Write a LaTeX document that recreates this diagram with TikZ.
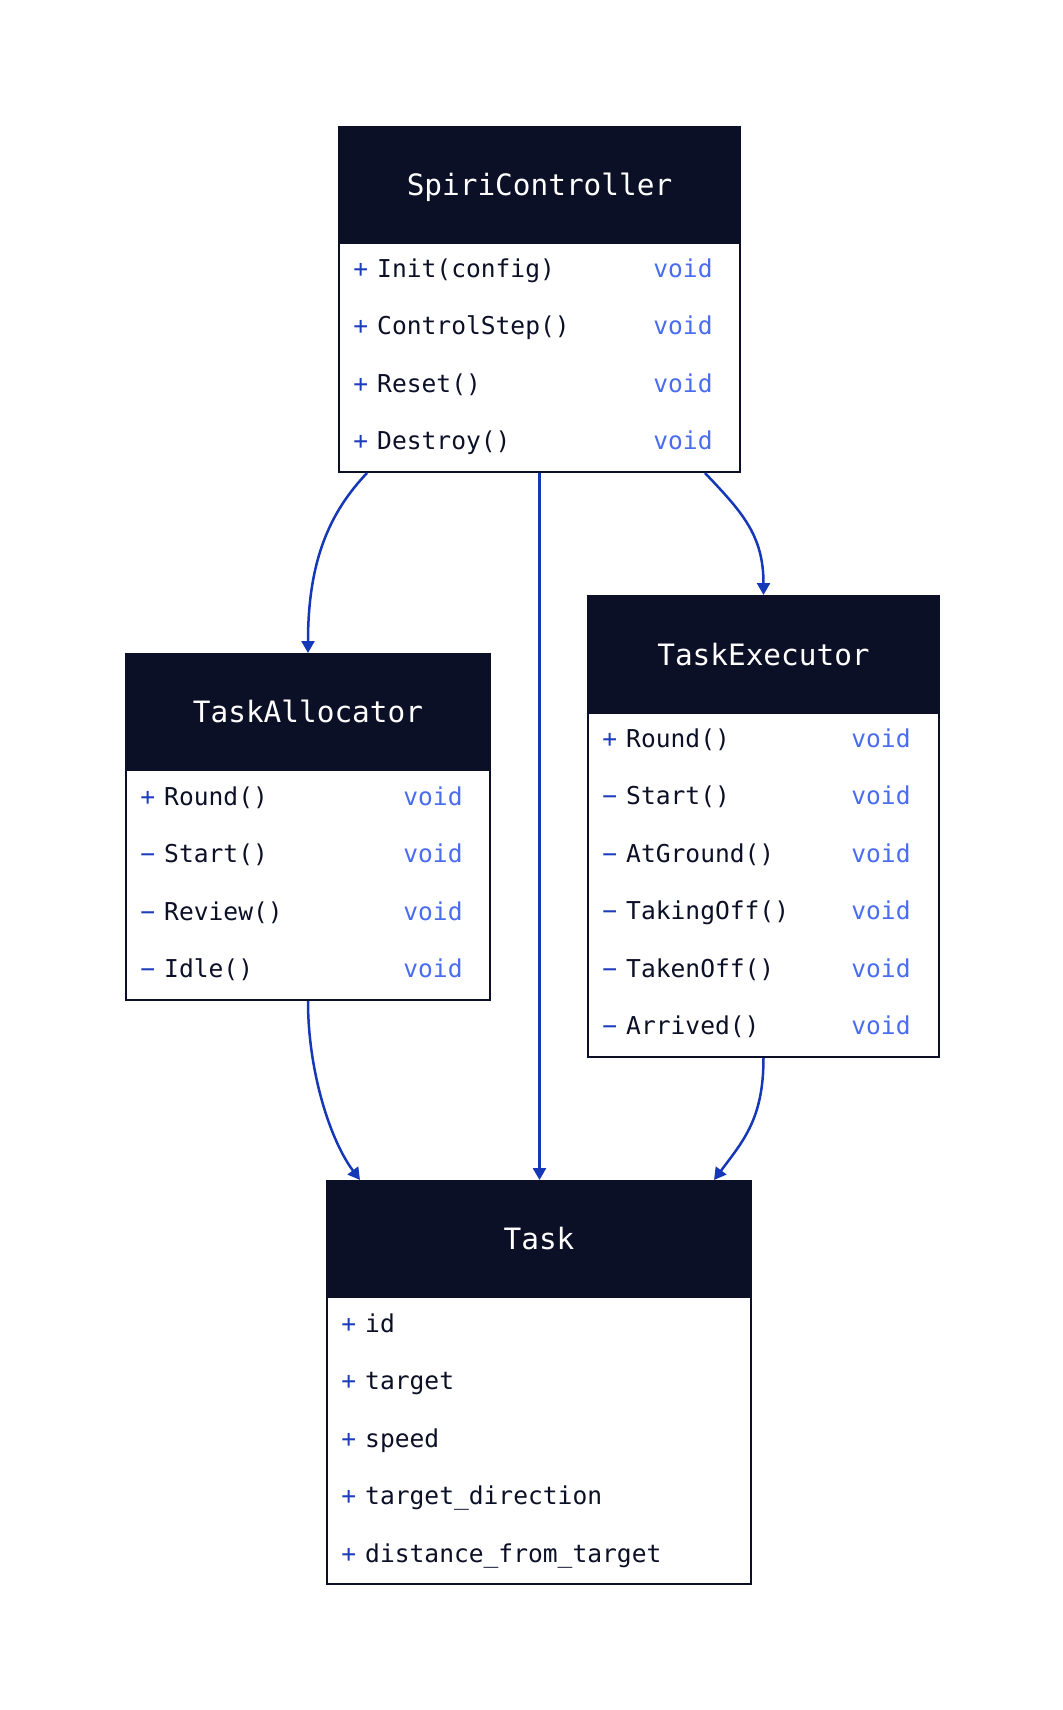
\documentclass[tikz,border=0pt]{standalone}
\usepackage{fontspec}
\usepackage{xcolor}
\usepackage{tikz}
\usetikzlibrary{arrows.meta,calc}
\newfontfamily\codefont{DejaVu Sans Mono}
\definecolor{headnavy}{HTML}{0C1027}
\definecolor{linkblue}{HTML}{1538B8}
\definecolor{typeblue}{HTML}{4A6CF0}
\definecolor{signblue}{HTML}{1E3CBE}

\begin{document}
\begin{tikzpicture}[x=0.5pt,y=-0.5pt,>={Triangle[length=6pt,width=6.5pt]},
  classbox/.style={draw=headnavy,line width=1pt,fill=white,inner sep=0pt,anchor=north west},
  headbox/.style={draw=headnavy,line width=1pt,fill=headnavy,text=white,inner sep=0pt,
    anchor=north,minimum height=58pt,text height=10.7pt,text depth=0pt,
    font=\codefont\fontsize{14.7}{17}\selectfont},
  member/.style={inner sep=0pt,anchor=base west,text=headnavy,font=\codefont\fontsize{12.3}{14}\selectfont},
  rettype/.style={inner sep=0pt,anchor=base east,text=typeblue,font=\codefont\fontsize{12.3}{14}\selectfont},
  link/.style={linkblue,line width=1.25pt}]
\useasboundingbox (0,0) rectangle (1063,1710);

% SpiriController
\node[classbox,minimum width=200.5pt,minimum height=172.5pt] (ctrl) at (338,126) {};
\node[headbox,minimum width=200.5pt] (ctrlhead) at (ctrl.north) {SpiriController};
\foreach \i/\s/\t in {0/+/Init(config),1/+/ControlStep(),2/+/Reset(),3/+/Destroy()} {
  \node[member] (ctrl-m\i) at (353,277+57.5*\i) {{\color{signblue}\s}\hspace{4.5pt}\t};
  \node[rettype] (ctrl-t\i) at (713,277+57.5*\i) {void};
}

% TaskAllocator
\node[classbox,minimum width=182pt,minimum height=173pt] (alloc) at (125,653) {};
\node[headbox,minimum width=182pt] (allochead) at (alloc.north) {TaskAllocator};
\foreach \i/\s/\t in {0/+/Round(),1/−/Start(),2/−/Review(),3/−/Idle()} {
  \node[member] (alloc-m\i) at (140,805+57.5*\i) {{\color{signblue}\s}\hspace{4.5pt}\t};
  \node[rettype] (alloc-t\i) at (463,805+57.5*\i) {void};
}

% TaskExecutor
\node[classbox,minimum width=175.5pt,minimum height=230.5pt] (exec) at (587,595) {};
\node[headbox,minimum width=175.5pt,minimum height=58.5pt] (exechead) at (exec.north) {TaskExecutor};
\foreach \i/\s/\t in {0/+/Round(),1/−/Start(),2/−/AtGround(),3/−/TakingOff(),4/−/TakenOff(),5/−/Arrived()} {
  \node[member] (exec-m\i) at (602,747+57.5*\i) {{\color{signblue}\s}\hspace{4.5pt}\t};
  \node[rettype] (exec-t\i) at (911,747+57.5*\i) {void};
}

% Task
\node[classbox,minimum width=212pt,minimum height=201.5pt] (task) at (326,1180) {};
\node[headbox,minimum width=212pt] (taskhead) at (task.north) {Task};
\foreach \i/\t in {0/id,1/target,2/speed,3/target\_direction,4/distance\_from\_target} {
  \node[member] (task-m\i) at (341,1332+57.5*\i) {{\color{signblue}+}\hspace{4.5pt}\t};
}

% links
\draw[link,->] ([xshift=14.5pt]ctrl.south west) .. controls +(-37,39) and +(0,-93) .. (alloc.north);
\draw[link,->] ([xshift=-18pt]ctrl.south east) .. controls +(37,39) and +(0,-60) .. (exec.north);
\draw[link,->] (ctrl.south) -- (ctrl.south |- task.north);
\draw[link,->] (alloc.south) .. controls +(0,70) and +(-30,-40) .. ([xshift=17pt]task.north west);
\draw[link,->] (exec.south) .. controls +(0,60) and +(30,-40) .. ([xshift=-19pt]task.north east);
\end{tikzpicture}
\end{document}
